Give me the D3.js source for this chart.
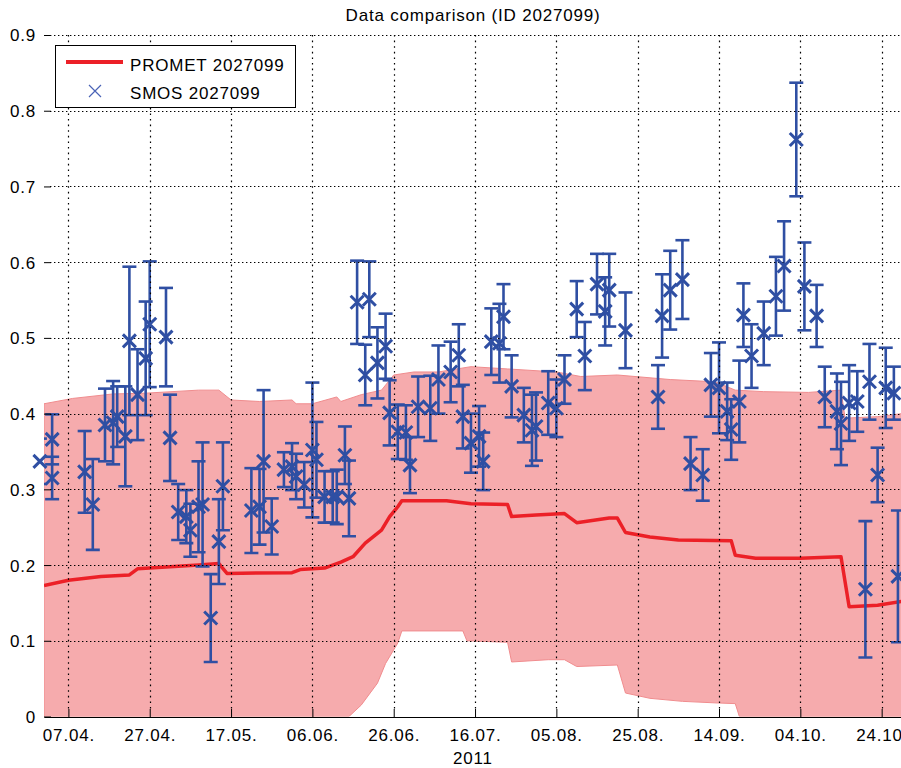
<!DOCTYPE html>
<html>
<head>
<meta charset="utf-8">
<script src="https://cdn.jsdelivr.net/npm/d3@7"></script>
<style>
    body { margin: 0; background: #fff; }
    svg { display: block; }
    text { font-family: "Liberation Sans", Arial, sans-serif; font-size: 17px; letter-spacing: 0.8px; fill: #000; }
</style>
</head>
<body>
<div id="chart"></div>
<script>
/*jslint browser: true*/

// SMOS retrievals (date, value, error half-width)
var smosDates = [
    '2011-03-31', '2011-04-03', '2011-04-03', '2011-04-11', '2011-04-13', '2011-04-16', '2011-04-18',
    '2011-04-19', '2011-04-21', '2011-04-22', '2011-04-24', '2011-04-26', '2011-04-27', '2011-05-01',
    '2011-05-02', '2011-05-04', '2011-05-06', '2011-05-07', '2011-05-09', '2011-05-10', '2011-05-12',
    '2011-05-14', '2011-05-15', '2011-05-22', '2011-05-24', '2011-05-25', '2011-05-27', '2011-05-30',
    '2011-06-01', '2011-06-02', '2011-06-04', '2011-06-06', '2011-06-07', '2011-06-09', '2011-06-11',
    '2011-06-12', '2011-06-14', '2011-06-15', '2011-06-17', '2011-06-19', '2011-06-20', '2011-06-22',
    '2011-06-24', '2011-06-25', '2011-06-27', '2011-06-29', '2011-06-30', '2011-07-02', '2011-07-05',
    '2011-07-07', '2011-07-10', '2011-07-12', '2011-07-13', '2011-07-15', '2011-07-17', '2011-07-18',
    '2011-07-20', '2011-07-22', '2011-07-23', '2011-07-25', '2011-07-28', '2011-07-30', '2011-07-31',
    '2011-08-03', '2011-08-05', '2011-08-07', '2011-08-10', '2011-08-12', '2011-08-15', '2011-08-17',
    '2011-08-18', '2011-08-22', '2011-08-30', '2011-08-31', '2011-09-02', '2011-09-05', '2011-09-07',
    '2011-09-10', '2011-09-12', '2011-09-14', '2011-09-16', '2011-09-17', '2011-09-19', '2011-09-20',
    '2011-09-22', '2011-09-25', '2011-09-28', '2011-09-30', '2011-10-03', '2011-10-05', '2011-10-08',
    '2011-10-10', '2011-10-13', '2011-10-14', '2011-10-16', '2011-10-18', '2011-10-20', '2011-10-21',
    '2011-10-23', '2011-10-25', '2011-10-27', '2011-10-28'
];
var smosValues = [
    0.337, 0.315, 0.366, 0.323, 0.280, 0.385, 0.388,
    0.396, 0.370, 0.496, 0.425, 0.473, 0.518, 0.501,
    0.368, 0.270, 0.264, 0.246, 0.277, 0.280, 0.130,
    0.231, 0.304, 0.272, 0.277, 0.337, 0.251, 0.326,
    0.330, 0.317, 0.306, 0.352, 0.339, 0.290, 0.290,
    0.290, 0.345, 0.288, 0.547, 0.451, 0.551, 0.467,
    0.489, 0.401, 0.376, 0.375, 0.332, 0.409, 0.407,
    0.445, 0.455, 0.477, 0.396, 0.361, 0.370, 0.337,
    0.495, 0.493, 0.528, 0.436, 0.398, 0.378, 0.383,
    0.414, 0.407, 0.445, 0.538, 0.476, 0.571, 0.535,
    0.563, 0.510, 0.422, 0.529, 0.563, 0.577, 0.334,
    0.319, 0.438, 0.434, 0.403, 0.379, 0.416, 0.530,
    0.476, 0.506, 0.555, 0.595, 0.762, 0.568, 0.529,
    0.422, 0.403, 0.387, 0.414, 0.416, 0.168, 0.442,
    0.319, 0.434, 0.427, 0.185
];
var smosErrors = [
    0.030, 0.028, 0.033, 0.054, 0.060, 0.048, 0.055,
    0.040, 0.066, 0.098, 0.060, 0.075, 0.083, 0.065,
    0.057, 0.037, 0.035, 0.035, 0.060, 0.082, 0.058,
    0.056, 0.058, 0.056, 0.050, 0.094, 0.037, 0.023,
    0.031, 0.030, 0.030, 0.089, 0.050, 0.034, 0.034,
    0.036, 0.038, 0.050, 0.055, 0.040, 0.050, 0.047,
    0.043, 0.043, 0.036, 0.036, 0.037, 0.040, 0.043,
    0.045, 0.040, 0.041, 0.042, 0.039, 0.040, 0.038,
    0.044, 0.052, 0.043, 0.041, 0.036, 0.047, 0.045,
    0.042, 0.038, 0.032, 0.037, 0.045, 0.040, 0.045,
    0.048, 0.050, 0.042, 0.055, 0.052, 0.052, 0.035,
    0.034, 0.042, 0.060, 0.038, 0.040, 0.054, 0.042,
    0.042, 0.042, 0.052, 0.059, 0.075, 0.058, 0.041,
    0.040, 0.050, 0.055, 0.050, 0.040, 0.090, 0.050,
    0.036, 0.053, 0.035, 0.087
];

// PROMET model run
var prometDates = [
    '2011-04-01', '2011-04-07', '2011-04-15', '2011-04-22', '2011-04-24', '2011-05-03', '2011-05-09',
    '2011-05-14', '2011-05-16', '2011-06-01', '2011-06-03', '2011-06-09', '2011-06-13', '2011-06-16',
    '2011-06-19', '2011-06-23', '2011-06-25', '2011-06-27', '2011-06-28', '2011-07-09', '2011-07-15',
    '2011-07-24', '2011-07-25', '2011-07-31', '2011-08-07', '2011-08-10', '2011-08-18', '2011-08-20',
    '2011-08-22', '2011-08-28', '2011-09-04', '2011-09-17', '2011-09-18', '2011-09-23', '2011-10-04',
    '2011-10-14', '2011-10-16', '2011-10-23', '2011-10-29'
];
var prometValues = [
    0.173, 0.180, 0.185, 0.187, 0.195, 0.198, 0.200,
    0.202, 0.189, 0.190, 0.194, 0.196, 0.204, 0.211,
    0.229, 0.246, 0.264, 0.277, 0.285, 0.285, 0.281,
    0.280, 0.264, 0.266, 0.268, 0.256, 0.262, 0.262,
    0.243, 0.237, 0.233, 0.232, 0.213, 0.209, 0.209,
    0.211, 0.145, 0.147, 0.152
];

// PROMET range (upper and lower envelope)
var bandUpperDates = [
    '2011-04-01', '2011-04-08', '2011-04-18', '2011-04-26', '2011-05-09', '2011-05-14', '2011-05-17',
    '2011-05-24', '2011-06-01', '2011-06-02', '2011-06-06', '2011-06-12', '2011-06-13', '2011-06-18',
    '2011-06-23', '2011-06-26', '2011-07-01', '2011-07-07', '2011-07-15', '2011-07-24', '2011-08-05',
    '2011-08-11', '2011-08-20', '2011-09-02', '2011-09-13', '2011-09-18', '2011-09-25', '2011-10-06',
    '2011-10-14', '2011-10-15', '2011-10-23', '2011-10-29'
];
var bandUpperValues = [
    0.413, 0.420, 0.426, 0.427, 0.431, 0.431, 0.418,
    0.416, 0.418, 0.413, 0.413, 0.422, 0.416, 0.425,
    0.431, 0.451, 0.455, 0.455, 0.462, 0.459, 0.455,
    0.449, 0.451, 0.445, 0.442, 0.431, 0.429, 0.428,
    0.431, 0.394, 0.396, 0.400
];
var bandLowerDates = [
    '2011-04-01', '2011-06-15', '2011-06-18', '2011-06-22', '2011-06-24', '2011-06-27', '2011-06-28',
    '2011-07-13', '2011-07-14', '2011-07-24', '2011-07-25', '2011-08-03', '2011-08-07', '2011-08-10',
    '2011-08-20', '2011-08-22', '2011-08-28', '2011-09-05', '2011-09-13', '2011-09-18', '2011-09-19',
    '2011-10-29'
];
var bandLowerValues = [
    0, 0, 0.015, 0.044, 0.070, 0.097, 0.113,
    0.113, 0.100, 0.098, 0.072, 0.075, 0.075, 0.066,
    0.068, 0.031, 0.024, 0.020, 0.018, 0.017, 0,
    0
];

// axis ticks
var yTicks = [0, 0.1, 0.2, 0.3, 0.4, 0.5, 0.6, 0.7, 0.8, 0.9];
var xTickDates = ['2011-04-07', '2011-04-27', '2011-05-17', '2011-06-06', '2011-06-26', '2011-07-16',
    '2011-08-05', '2011-08-25', '2011-09-14', '2011-10-04', '2011-10-24'];

(function (d3) {
    var width = 901,
        height = 768,
        plot = {left: 44, right: 902, top: 35, bottom: 716.5},
        parse = d3.utcParse('%Y-%m-%d'),
        blue = '#2f4fa3',
        red = '#ec2027',
        pink = '#f6abad';

    var x = d3.scaleUtc()
            .domain([parse('2011-04-01'), parse('2011-10-29')])
            .range([plot.left, plot.right]),
        y = d3.scaleLinear()
            .domain([0, 0.9])
            .range([plot.bottom, plot.top]);

    var svg = d3.select('#chart').append('svg')
        .attr('width', width)
        .attr('height', height);

    svg.append('defs').append('clipPath').attr('id', 'plotClip')
        .append('rect')
        .attr('x', plot.left)
        .attr('y', 0)
        .attr('width', plot.right - plot.left)
        .attr('height', plot.bottom);

    var inner = svg.append('g').attr('clip-path', 'url(#plotClip)');

    // pink envelope: upper edge forward, lower edge back
    var upper = bandUpperDates.map(function (d, i) { return [x(parse(d)), y(bandUpperValues[i])]; }),
        lower = bandLowerDates.map(function (d, i) { return [x(parse(d)), y(bandLowerValues[i])]; });
    inner.append('path')
        .attr('d', d3.line()(upper.concat(lower.reverse())) + 'Z')
        .attr('fill', pink)
        .attr('stroke', '#f08c8e')
        .attr('stroke-width', 1);

    // dotted grid (dots run a bit further apart vertically)
    var grid = svg.append('g')
        .attr('stroke', '#000')
        .attr('stroke-width', 1.2);
    grid.selectAll('.hgrid').data(yTicks.slice(1)).enter().append('line')
        .attr('class', 'hgrid')
        .attr('stroke-dasharray', '1.4,2.6')
        .attr('x1', plot.left + 6)
        .attr('x2', plot.right)
        .attr('y1', function (d) { return Math.round(y(d)) + 0.5; })
        .attr('y2', function (d) { return Math.round(y(d)) + 0.5; });
    grid.selectAll('.vgrid').data(xTickDates).enter().append('line')
        .attr('class', 'vgrid')
        .attr('stroke-dasharray', '1.6,4')
        .attr('x1', function (d) { return Math.round(x(parse(d))) + 0.5; })
        .attr('x2', function (d) { return Math.round(x(parse(d))) + 0.5; })
        .attr('y1', plot.top)
        .attr('y2', plot.bottom - 8);

    // x axis with inward ticks
    var xAxis = d3.axisBottom(x)
        .tickValues(xTickDates.map(parse))
        .tickFormat(d3.utcFormat('%d.%m.'))
        .tickSizeInner(-8)
        .tickSizeOuter(0)
        .tickPadding(12);
    var gx = svg.append('g')
        .attr('transform', 'translate(0,' + Math.round(plot.bottom) + ')')
        .call(xAxis);
    gx.select('.domain').attr('stroke', '#000');
    gx.selectAll('text').attr('font-size', null).attr('font-family', null);

    // y axis, no spine
    var yAxis = d3.axisLeft(y)
        .tickValues(yTicks)
        .tickFormat(d3.format('~g'))
        .tickSizeInner(-7)
        .tickSizeOuter(0)
        .tickPadding(8);
    var gy = svg.append('g')
        .attr('transform', 'translate(' + plot.left + ',0)')
        .call(yAxis);
    gy.select('.domain').remove();
    gy.selectAll('text').attr('font-size', null).attr('font-family', null).attr('dy', '0.35em');

    // PROMET line
    inner.append('path')
        .datum(prometDates.map(function (d, i) { return {date: parse(d), value: prometValues[i]}; }))
        .attr('d', d3.line()
            .x(function (d) { return x(d.date); })
            .y(function (d) { return y(d.value); }))
        .attr('fill', 'none')
        .attr('stroke', red)
        .attr('stroke-width', 3.5)
        .attr('stroke-linejoin', 'round');

    // SMOS error bars
    var smos = smosDates.map(function (d, i) {
        return {date: parse(d), value: smosValues[i], err: smosErrors[i]};
    });
    var cap = 7;
    var bars = inner.append('g')
        .attr('stroke', blue)
        .attr('stroke-width', 2.6)
        .selectAll('g').data(smos).enter().append('g');
    bars.append('line')
        .attr('x1', function (d) { return x(d.date); })
        .attr('x2', function (d) { return x(d.date); })
        .attr('y1', function (d) { return y(d.value - d.err); })
        .attr('y2', function (d) { return y(d.value + d.err); });
    [-1, 1].forEach(function (s) {
        bars.append('line')
            .attr('x1', function (d) { return x(d.date) - cap; })
            .attr('x2', function (d) { return x(d.date) + cap; })
            .attr('y1', function (d) { return y(d.value + s * d.err); })
            .attr('y2', function (d) { return y(d.value + s * d.err); });
    });

    // SMOS markers (not clipped)
    var m = 6.5;
    svg.append('g')
        .selectAll('path').data(smos).enter().append('path')
        .attr('d', function (d) {
            var cx = x(d.date), cy = y(d.value);
            return 'M' + (cx - m) + ',' + (cy - m) + 'L' + (cx + m) + ',' + (cy + m) +
                'M' + (cx - m) + ',' + (cy + m) + 'L' + (cx + m) + ',' + (cy - m);
        })
        .attr('stroke', blue)
        .attr('stroke-width', 3)
        .attr('fill', 'none');

    // title and x label
    svg.append('text')
        .attr('x', (plot.left + plot.right) / 2)
        .attr('y', 21)
        .attr('text-anchor', 'middle')
        .text('Data comparison (ID 2027099)');
    svg.append('text')
        .attr('x', (plot.left + plot.right) / 2)
        .attr('y', 764)
        .attr('text-anchor', 'middle')
        .text('2011');

    // legend
    var lg = svg.append('g');
    lg.append('rect')
        .attr('x', 55.5)
        .attr('y', 45.5)
        .attr('width', 240)
        .attr('height', 62)
        .attr('fill', '#fff')
        .attr('stroke', '#000')
        .attr('stroke-width', 1);
    lg.append('line')
        .attr('x1', 66).attr('x2', 123)
        .attr('y1', 62).attr('y2', 62)
        .attr('stroke', red)
        .attr('stroke-width', 4);
    lg.append('path')
        .attr('d', 'M89,85L101,97M89,97L101,85')
        .attr('stroke', '#4a63b6')
        .attr('stroke-width', 1.2);
    lg.append('text').attr('x', 130).attr('y', 71).text('PROMET 2027099');
    lg.append('text').attr('x', 130).attr('y', 99).text('SMOS 2027099');
}(window.d3));
</script>
</body>
</html>
